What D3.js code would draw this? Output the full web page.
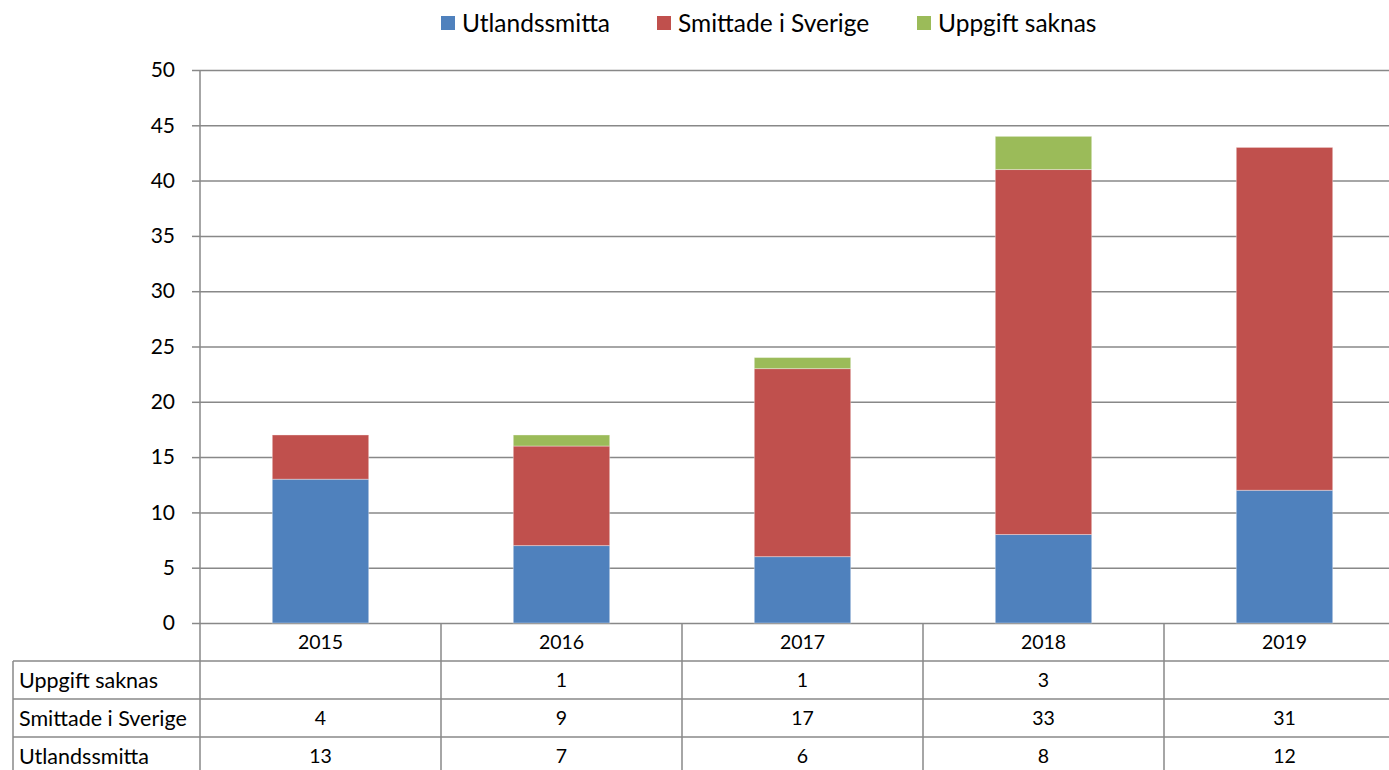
<!DOCTYPE html>
<html>
<head>
<meta charset="utf-8">
<script src="https://cdn.jsdelivr.net/npm/d3@7"></script>
<style>
  body { margin: 0; background: #fff; }
  svg { display: block; font-family: Lato, "Open Sans", sans-serif; }
</style>
</head>
<body>
<div id="chart"></div>
<script>
// Data
const years = ['2015', '2016', '2017', '2018', '2019'];
const utlandssmitta = [13, 7, 6, 8, 12];
const smittadeSverige = [4, 9, 17, 33, 31];
const uppgiftSaknas = [null, 1, 1, 3, null];
const seriesNames = ['Utlandssmitta', 'Smittade i Sverige', 'Uppgift saknas'];
const colors = ['#4F81BD', '#C0504D', '#9BBB59'];
const yTicks = [0, 5, 10, 15, 20, 25, 30, 35, 40, 45, 50];

const width = 1389;
const height = 770;
const gridColor = '#888888';

const svg = d3.select('#chart')
  .append('svg')
  .attr('width', width)
  .attr('height', height);

const plot = { left: 200, right: 1405, top: 70, bottom: 623 };

const xScale = d3.scaleBand()
  .domain(years)
  .range([plot.left, plot.right])
  .paddingInner(0.6)
  .paddingOuter(0.3);

// column scale for the table (no padding)
const colScale = d3.scaleBand()
  .domain(years)
  .range([plot.left, plot.right]);

const yScale = d3.scaleLinear().domain([0, 50]).range([plot.bottom, plot.top]);

// Gridlines
svg.append('g')
  .attr('class', 'gridlines')
  .attr('transform', `translate(${plot.left}, 0)`)
  .call(d3.axisLeft(yScale).tickValues(yTicks).tickFormat('').tickSize(-(plot.right - plot.left)))
  .call(g => g.select('.domain').remove())
  .call(g => g.selectAll('line').attr('stroke', gridColor).attr('stroke-width', 1.5));

// Stacked bars
const rows = years.map((y, i) => ({
  year: y,
  'Utlandssmitta': utlandssmitta[i],
  'Smittade i Sverige': smittadeSverige[i],
  'Uppgift saknas': uppgiftSaknas[i] || 0,
}));
const stacked = d3.stack().keys(seriesNames)(rows);

svg.append('g')
  .selectAll('g')
  .data(stacked)
  .join('g')
  .attr('fill', (d, i) => colors[i])
  .selectAll('rect')
  .data(d => d)
  .join('rect')
  .attr('x', d => xScale(d.data.year))
  .attr('width', xScale.bandwidth())
  .attr('y', d => yScale(d[1]))
  .attr('height', d => yScale(d[0]) - yScale(d[1]))
  .attr('stroke', 'rgba(255,255,255,0.35)')
  .attr('stroke-width', 1);

// Y axis
const yAxis = svg.append('g')
  .attr('transform', `translate(${plot.left}, 0)`)
  .call(d3.axisLeft(yScale).tickValues(yTicks).tickSize(8).tickPadding(17));
yAxis.select('.domain').attr('stroke', gridColor).attr('stroke-width', 1.5)
  .attr('d', `M0,${plot.top}V${height}`);
yAxis.selectAll('line').attr('stroke', gridColor).attr('stroke-width', 1.5);
yAxis.selectAll('text')
  .attr('font-family', 'Lato, "Open Sans", sans-serif')
  .attr('font-size', 21)
  .attr('fill', '#000');

// Data table under the plot
const rowH = 38;
const tableLeft = 13;
const tableRows = [
  { name: 'Uppgift saknas', values: uppgiftSaknas },
  { name: 'Smittade i Sverige', values: smittadeSverige },
  { name: 'Utlandssmitta', values: utlandssmitta },
];
const table = svg.append('g').attr('class', 'table');

// header row: years
table.selectAll('text.year')
  .data(years)
  .join('text')
  .attr('class', 'year')
  .attr('x', d => colScale(d) + colScale.bandwidth() / 2)
  .attr('y', plot.bottom + rowH / 2)
  .attr('dy', '0.35em')
  .attr('text-anchor', 'middle')
  .attr('font-size', 19.5)
  .text(d => d);

// horizontal lines
table.selectAll('line.h')
  .data(tableRows)
  .join('line')
  .attr('class', 'h')
  .attr('x1', tableLeft)
  .attr('x2', plot.right)
  .attr('y1', (d, i) => plot.bottom + rowH * (i + 1))
  .attr('y2', (d, i) => plot.bottom + rowH * (i + 1))
  .attr('stroke', gridColor)
  .attr('stroke-width', 1.5);

// vertical lines
table.selectAll('line.v')
  .data(years.slice(1))
  .join('line')
  .attr('class', 'v')
  .attr('x1', d => colScale(d))
  .attr('x2', d => colScale(d))
  .attr('y1', plot.bottom)
  .attr('y2', height)
  .attr('stroke', gridColor)
  .attr('stroke-width', 1.5);

table.append('line')
  .attr('x1', tableLeft).attr('x2', tableLeft)
  .attr('y1', plot.bottom + rowH).attr('y2', height)
  .attr('stroke', gridColor)
  .attr('stroke-width', 1.5);

const tr = table.selectAll('g.row')
  .data(tableRows)
  .join('g')
  .attr('class', 'row')
  .attr('transform', (d, i) => `translate(0, ${plot.bottom + rowH * (i + 1)})`);

tr.append('text')
  .attr('x', tableLeft + 6)
  .attr('y', rowH / 2)
  .attr('dy', '0.35em')
  .attr('font-size', 21.5)
  .text(d => d.name);

tr.selectAll('text.val')
  .data(d => d.values)
  .join('text')
  .attr('class', 'val')
  .attr('x', (d, i) => colScale(years[i]) + colScale.bandwidth() / 2)
  .attr('y', rowH / 2)
  .attr('dy', '0.35em')
  .attr('text-anchor', 'middle')
  .attr('font-size', 19.5)
  .text(d => d == null ? '' : d);

// Legend
const legendX = [441, 657, 917];
const legend = svg.append('g').attr('class', 'legend');
const li = legend.selectAll('g')
  .data(seriesNames)
  .join('g')
  .attr('transform', (d, i) => `translate(${legendX[i]}, 0)`);
li.append('rect')
  .attr('x', 0).attr('y', 16)
  .attr('width', 14).attr('height', 14)
  .attr('fill', (d, i) => colors[i]);
li.append('text')
  .attr('x', 21)
  .attr('y', 23)
  .attr('dy', '0.35em')
  .attr('font-size', 24.5)
  .text(d => d);
</script>
</body>
</html>
